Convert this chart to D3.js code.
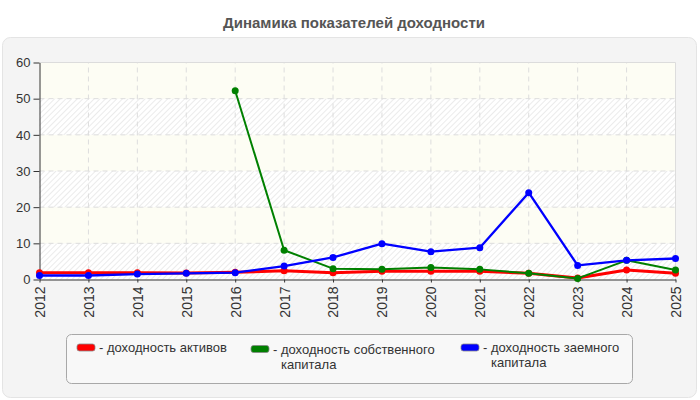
<!DOCTYPE html>
<html><head><meta charset="utf-8">
<script src="https://cdn.jsdelivr.net/npm/d3@7"></script>
<style>body{margin:0;background:#fff;}svg{display:block;font-family:"Liberation Sans",Arial,sans-serif;}</style>
</head><body>
<svg id="c" width="700" height="400"></svg>
<script>
const years = [2012,2013,2014,2015,2016,2017,2018,2019,2020,2021,2022,2023,2024,2025];
const assets = [1.9,1.9,1.9,1.8,2.0,2.4,1.9,2.3,2.3,2.3,1.7,0.4,2.6,1.7];
const equity = [null,null,null,null,52.2,8.1,3.0,2.8,3.3,2.8,1.7,0.3,5.3,2.6];
const debt = [1.1,1.1,1.5,1.7,1.9,3.7,6.1,9.9,7.7,8.8,24.0,3.9,5.3,5.8];
const yTicks = [0,10,20,30,40,50,60];
const seriesNames = [["- доходность активов"],["- доходность собственного","капитала"],["- доходность заемного","капитала"]];
const seriesColors = ["#ff0000","#008000","#0000ff"];
const title = "Динамика показателей доходности";

const svg = d3.select("#c");
const defs = svg.append("defs");
const pat = defs.append("pattern").attr("id","hatch").attr("patternUnits","userSpaceOnUse")
  .attr("width",4).attr("height",4).attr("patternTransform","rotate(45)");
pat.append("rect").attr("width",4).attr("height",4).attr("fill","#ffffff");
pat.append("line").attr("x1",0.5).attr("y1",0).attr("x2",0.5).attr("y2",4).attr("stroke","#ebebeb").attr("stroke-width",1);

// panel
svg.append("rect").attr("x",2.5).attr("y",37.5).attr("width",694).attr("height",360).attr("rx",8)
  .attr("fill","#f4f4f4").attr("stroke","#e4e4e4");
svg.append("text").attr("x",354).attr("y",28).attr("text-anchor","middle")
  .attr("font-size",15).attr("font-weight","bold").attr("fill","#555").text(title);

const x = d3.scaleLinear().domain([2012,2025]).range([39.5,675.5]);
const y = d3.scaleLinear().domain([0,60]).range([279.5,62.5]);

// bands
const g = svg.append("g");
for (let i=0;i<yTicks.length-1;i++){
  g.append("rect").attr("x",x(2012)).attr("y",y(yTicks[i+1])).attr("width",x(2025)-x(2012))
   .attr("height",y(yTicks[i])-y(yTicks[i+1])).attr("fill", i%2===0 ? "url(#hatch)" : "#fdfdf4");
}
// grid
g.selectAll(".gy").data(yTicks.slice(1)).join("line").attr("x1",x(2012)).attr("x2",x(2025))
  .attr("y1",d=>y(d)).attr("y2",d=>y(d)).attr("stroke",d=>d===60?"#dcdcdc":"#dddddd")
  .attr("stroke-dasharray",d=>d===60?null:"5,4");
g.selectAll(".gx").data(years.slice(1)).join("line").attr("y1",y(0)).attr("y2",y(60))
  .attr("x1",d=>x(d)).attr("x2",d=>x(d)).attr("stroke","#dddddd")
  .attr("stroke-dasharray",d=>d===2025?null:"5,4");

// axes
const ya = svg.append("g").attr("transform",`translate(${x(2012)},0)`)
  .call(d3.axisLeft(y).tickValues(yTicks).tickSize(6).tickSizeOuter(0));
ya.selectAll("text").attr("font-size",13).attr("fill","#333").attr("font-family","Liberation Sans, Arial");
ya.selectAll("line").attr("stroke","#333");
ya.select(".domain").attr("stroke","#333");
const xa = svg.append("g").attr("transform",`translate(0,${y(0)})`)
  .call(d3.axisBottom(x).tickValues(years).tickFormat(d3.format("d")).tickSize(3).tickSizeOuter(0));
xa.select(".domain").attr("stroke","#333");
xa.selectAll("line").attr("stroke","#333");
xa.selectAll("text").attr("font-size",14).attr("fill","#333").attr("font-family","Liberation Sans, Arial")
  .attr("transform","rotate(-90)").attr("text-anchor","end").attr("x",-7).attr("y",0).attr("dy","0.35em");

// series
const data = [assets, equity, debt];
const widths = [3,2,2.3];
const radii = [3.5,3.5,3.5];
data.forEach((vals,si)=>{
  const pts = years.map((yr,i)=>({yr,v:vals[i]})).filter(d=>d.v!==null);
  const line = d3.line().x(d=>x(d.yr)).y(d=>y(d.v));
  svg.append("path").datum(pts).attr("d",line).attr("fill","none")
    .attr("stroke",seriesColors[si]).attr("stroke-width",widths[si]).attr("stroke-linejoin","round");
  svg.selectAll(null).data(pts).join("circle").attr("cx",d=>x(d.yr)).attr("cy",d=>y(d.v))
    .attr("r",radii[si]).attr("fill",seriesColors[si]);
});

// legend
svg.append("rect").attr("x",66.5).attr("y",334.5).attr("width",566).attr("height",49).attr("rx",5)
  .attr("fill","#f8f8f8").attr("stroke","#a8a8a8");
const lx = [77,251,461];
const ly = [344,345.5,344];
seriesNames.forEach((parts,i)=>{
  svg.append("rect").attr("x",lx[i]).attr("y",ly[i]).attr("width",18).attr("height",7).attr("rx",2.5)
    .attr("fill",seriesColors[i]).attr("stroke","#888").attr("stroke-width",0.8);
  parts.forEach((p,j)=>{
    svg.append("text").attr("font-size",13).attr("fill","#333")
      .attr("x", lx[i]+22 + (j>0?8:0)).attr("y", ly[i]+8 + j*15).text(p);
  });
});
</script>
</body></html>
